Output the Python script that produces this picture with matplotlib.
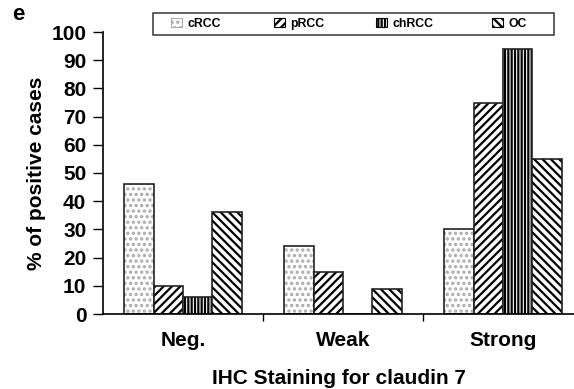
import numpy as np
import matplotlib.pyplot as plt
from matplotlib.patches import Patch, Rectangle

plt.rcParams['font.family'] = ['Liberation Sans', 'DejaVu Sans']
plt.rcParams['font.weight'] = 'bold'
plt.rcParams['hatch.linewidth'] = 1.6

# Data
categories = ["Neg.", "Weak", "Strong"]
series = ["cRCC", "pRCC", "chRCC", "OC"]
crcc = [46, 24, 30]
prcc = [10, 15, 75]
chrcc = [6, 0, 94]
oc = [36, 9, 55]
values = [crcc, prcc, chrcc, oc]
hatches = ["...", "////", "|||||", "\\\\\\\\"]
hatch_colors = ["#aaaaaa", "black", "black", "black"]
# legend entry left edges (px) in the top box
legend_x = [171, 274, 376, 492]

fig = plt.figure(figsize=(5.74, 3.89), dpi=100)
ax = fig.add_axes([103 / 574, 75 / 389, 471 / 574, 282 / 389])

x = np.arange(len(categories))
width = 0.183
for i, (vals, h, hc) in enumerate(zip(values, hatches, hatch_colors)):
    offs = (i - 1.5) * width
    ax.bar(x + offs, vals, width, facecolor="white", edgecolor=hc,
           hatch=h, linewidth=0)
    ax.bar(x + offs, vals, width, facecolor="none", edgecolor="#222222",
           linewidth=1.2)

ax.set_xlim(-0.5, -0.5 + 471 / 160)
ax.set_ylim(0, 100)
ax.set_yticks(np.arange(0, 101, 10))
ax.set_xticks(x)
ax.set_xticklabels(categories)
ax.set_xticks([0.5, 1.5], minor=True)
ax.tick_params(axis="x", which="major", length=0, pad=12, labelsize=15)
ax.tick_params(axis="x", which="minor", length=5, width=1, direction="out")
ax.tick_params(axis="y", length=7, width=1, labelsize=15, pad=5)
for lab in ax.get_xticklabels() + ax.get_yticklabels():
    lab.set_fontweight("bold")

for s in ["top", "right"]:
    ax.spines[s].set_visible(False)
ax.spines["left"].set_linewidth(1.2)
ax.spines["bottom"].set_linewidth(1.2)

ax.set_ylabel("% of positive cases", fontsize=15, fontweight="bold", labelpad=4)
ax.set_xlabel("IHC Staining for claudin 7", fontsize=15, fontweight="bold", labelpad=14)

# legend box
fig.patches.append(Rectangle((153 / 574, 1 - 35 / 389), 401 / 574, 22 / 389,
                             transform=fig.transFigure, facecolor="white",
                             edgecolor="#444444", linewidth=1.2))
for i, (name, h, hc, lx) in enumerate(zip(series, hatches, hatch_colors, legend_x)):
    handle = Patch(facecolor="white", edgecolor=hc if i == 0 else "black",
                   hatch=h, linewidth=0.8)
    leg = fig.legend([handle], [name], loc="center left",
                     bbox_to_anchor=(lx / 574, 1 - 24 / 389), frameon=False,
                     fontsize=8.8, handlelength=0.9, handleheight=0.7,
                     handletextpad=0.45, borderpad=0, borderaxespad=0)
    for t in leg.get_texts():
        t.set_fontweight("bold")

fig.text(12 / 574, 1 - 14 / 389, "e", fontsize=16, fontweight="bold", va="center")

fig.savefig("out.png", dpi=100)
